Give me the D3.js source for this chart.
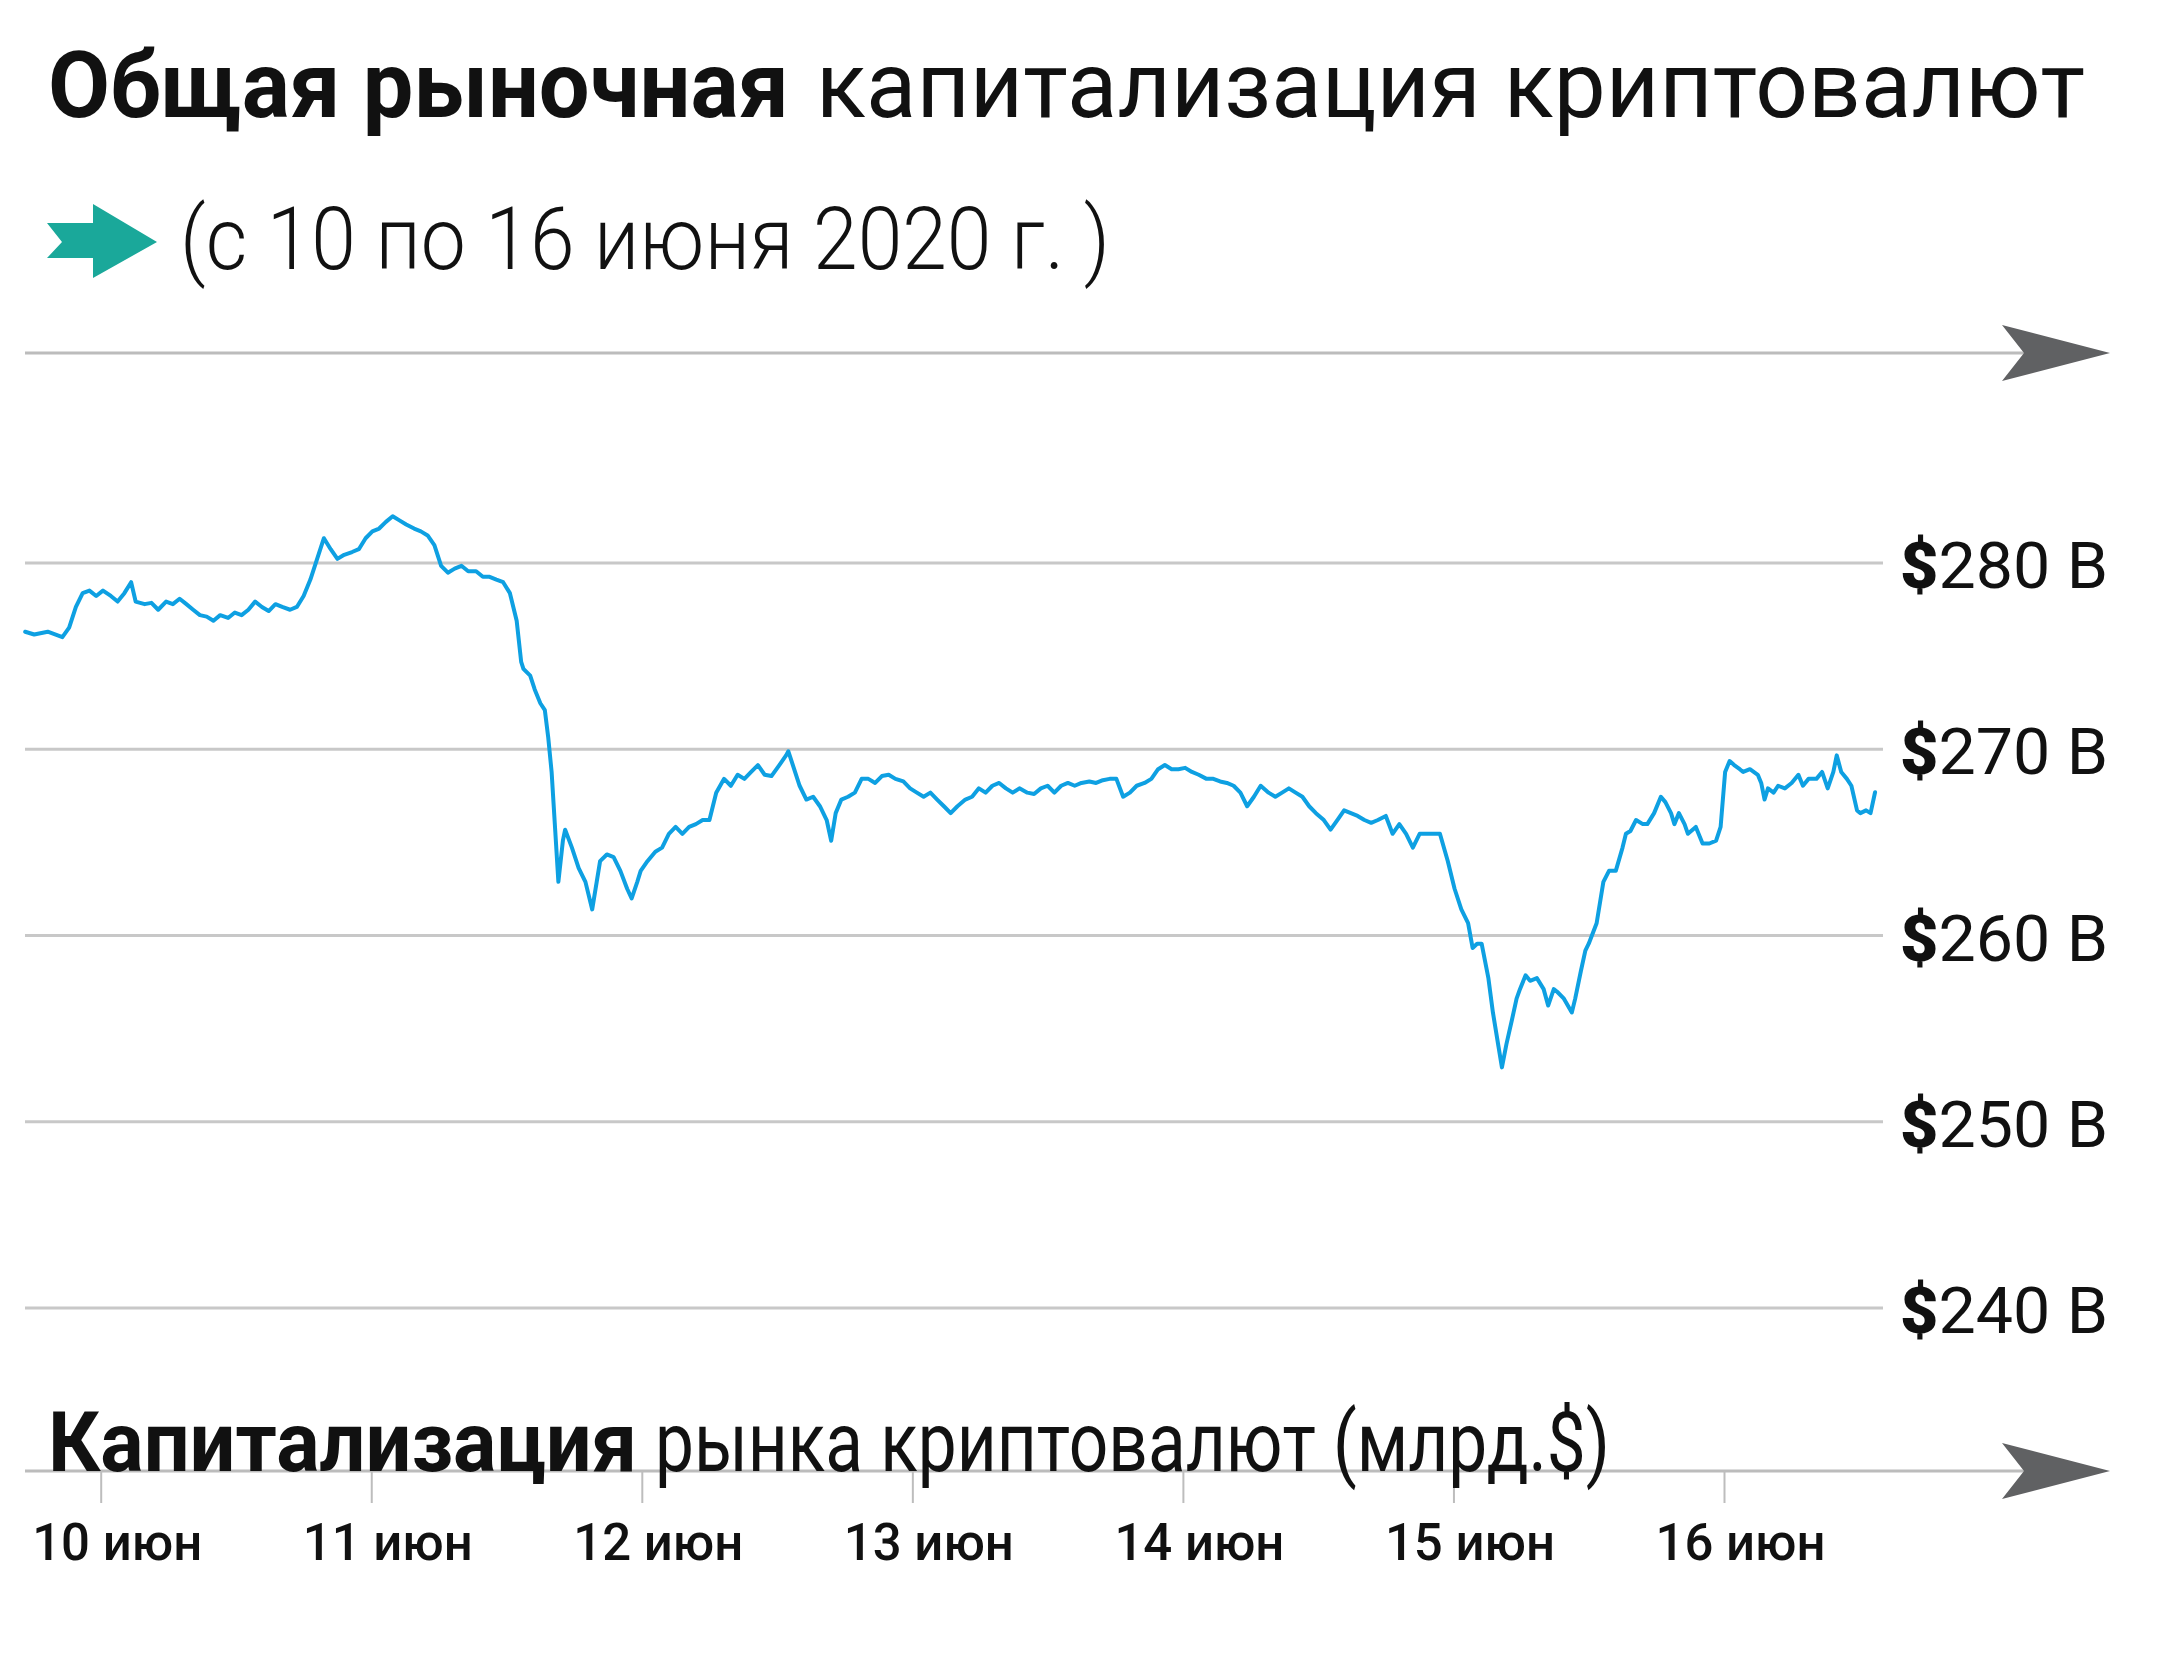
<!DOCTYPE html>
<html>
<head>
<meta charset="utf-8">
<script src="https://cdn.jsdelivr.net/npm/d3@7"></script>
<style>
html,body{margin:0;padding:0;background:#fff;}
svg{display:block;}
</style>
</head>
<body>
<svg id="chart" width="2160" height="1657"></svg>
<script>
// ---- DATA ----
const titleBold = "Общая рыночная";
const titleRegular = "капитализация криптовалют";
const subtitle = "(с 10 по 16 июня 2020 г. )";
const axisTitleBold = "Капитализация";
const axisTitleRegular = "рынка криптовалют (млрд.$)";
const yTicks = [240, 250, 260, 270, 280];
const yTickLabels = ["240 B", "250 B", "260 B", "270 B", "280 B"];
const dayTicks = ["2020-06-10", "2020-06-11", "2020-06-12", "2020-06-13", "2020-06-14", "2020-06-15", "2020-06-16"];
const dayLabels = ["10 июн", "11 июн", "12 июн", "13 июн", "14 июн", "15 июн", "16 июн"];

// hours since 10 June 2020 00:00
const hours = [
-6.7,-5.9,-4.7,-3.4,-2.8,-2.2,-1.6,-1.0,-0.4,0.2,0.9,1.5,2.1,2.7,3.1,3.9,4.5,5.1,5.8,6.4,7.0,7.6,8.2,8.8,9.4,10.0,10.6,11.3,11.9,12.5,13.1,13.7,14.3,14.9,15.5,16.1,16.8,17.4,18.0,18.6,19.2,19.8,20.4,21.0,21.6,22.3,22.9,23.5,24.1,24.7,25.3,25.9,26.5,27.1,27.8,28.4,29.0,29.6,30.2,30.8,31.4,32.0,32.6,33.3,33.9,34.5,35.1,35.7,36.3,36.9,37.3,37.5,38.1,38.5,39.0,39.4,39.7,40.0,40.3,40.6,41.0,41.2,41.8,42.4,43.0,43.6,44.0,44.3,44.9,45.5,46.1,46.7,47.1,47.6,47.9,48.5,49.2,49.8,50.4,51.0,51.6,52.2,52.8,53.4,54.0,54.6,55.3,55.9,56.5,57.1,57.7,58.3,58.9,59.5,60.2,60.8,61.0,61.4,62.0,62.6,63.2,63.8,64.4,64.8,65.2,65.7,66.3,66.9,67.5,68.1,68.7,69.3,69.9,70.5,71.2,71.8,72.4,73.0,73.6,74.2,74.8,75.4,76.0,76.7,77.3,77.9,78.5,79.1,79.7,80.3,80.9,81.5,82.2,82.8,83.4,84.0,84.6,85.2,85.8,86.4,87.0,87.7,88.3,88.9,89.5,90.1,90.7,91.3,91.9,92.6,93.2,93.8,94.4,95.0,95.6,96.2,96.8,97.4,98.1,98.7,99.3,99.9,100.5,101.1,101.7,102.3,102.9,103.6,104.2,104.8,105.4,106.0,106.6,107.2,107.8,108.5,109.1,109.7,110.3,110.9,111.5,112.1,112.7,113.3,114.0,114.6,115.2,115.8,116.4,117.0,117.6,118.2,118.8,119.5,120.1,120.7,121.3,121.7,122.1,122.5,123.1,123.5,124.0,124.3,124.7,125.2,125.6,125.9,126.4,126.8,127.4,128.0,128.4,128.9,129.2,129.8,130.5,130.8,131.3,131.7,132.0,132.7,133.3,133.8,134.4,135.0,135.3,135.7,136.2,136.8,137.2,137.8,138.4,138.8,139.3,139.6,140.0,140.5,140.8,141.5,142.1,142.7,143.3,143.7,144.1,144.5,144.9,145.4,145.7,146.3,147.0,147.3,147.6,147.9,148.4,148.8,149.4,150.0,150.6,151.0,151.5,152.2,152.7,153.2,153.7,154.0,154.4,154.9,155.3,155.8,156.1,156.6,157.0,157.4
];
const capBn = [
276.31,276.16,276.31,276.02,276.53,277.64,278.38,278.52,278.23,278.52,278.23,277.93,278.38,278.97,277.93,277.79,277.86,277.49,277.93,277.79,278.08,277.79,277.49,277.20,277.12,276.90,277.20,277.05,277.34,277.20,277.49,277.93,277.64,277.42,277.79,277.64,277.49,277.64,278.23,279.11,280.22,281.33,280.74,280.22,280.44,280.59,280.74,281.33,281.70,281.85,282.21,282.51,282.29,282.07,281.85,281.70,281.48,280.96,279.85,279.48,279.70,279.85,279.56,279.56,279.26,279.26,279.11,278.97,278.38,276.90,274.69,274.32,273.95,273.21,272.47,272.10,270.63,268.78,265.83,262.88,265.09,265.68,264.72,263.62,262.88,261.40,262.88,263.99,264.35,264.21,263.47,262.51,261.99,262.88,263.47,263.99,264.50,264.72,265.46,265.83,265.46,265.83,265.98,266.20,266.20,267.67,268.41,268.04,268.63,268.41,268.78,269.15,268.63,268.56,269.15,269.67,269.89,269.15,268.04,267.30,267.45,266.94,266.20,265.09,266.57,267.30,267.45,267.67,268.41,268.41,268.19,268.56,268.63,268.41,268.27,267.90,267.67,267.45,267.67,267.30,266.94,266.57,266.94,267.30,267.45,267.90,267.67,268.04,268.19,267.90,267.67,267.90,267.67,267.60,267.90,268.04,267.67,268.04,268.19,268.04,268.19,268.27,268.19,268.34,268.41,268.41,267.45,267.67,268.04,268.19,268.41,268.93,269.15,268.93,268.93,269.00,268.78,268.63,268.41,268.41,268.27,268.19,268.04,267.67,266.94,267.45,268.04,267.67,267.45,267.67,267.90,267.67,267.45,266.94,266.57,266.20,265.68,266.20,266.72,266.57,266.42,266.20,266.05,266.20,266.42,265.46,265.98,265.46,264.72,265.46,265.46,265.46,265.46,263.99,262.51,261.40,260.66,259.33,259.56,259.56,257.71,255.87,254.02,252.92,254.17,255.50,256.61,257.12,257.86,257.57,257.71,257.12,256.24,257.12,256.98,256.61,255.87,256.61,258.08,259.19,259.56,260.66,262.88,263.47,263.47,264.72,265.46,265.61,266.20,265.98,265.98,266.57,267.45,267.16,266.57,265.98,266.57,265.98,265.46,265.83,264.94,264.94,265.09,265.83,268.78,269.37,269.15,268.93,268.78,268.93,268.63,268.19,267.30,267.90,267.67,268.04,267.90,268.19,268.63,268.04,268.41,268.41,268.78,267.90,268.78,269.67,268.78,268.41,268.04,266.72,266.57,266.72,266.57,267.69
];

// ---- DRAW ----
const svg = d3.select("#chart");
const FONT = "Roboto, 'Noto Sans', sans-serif";
const t0 = new Date(2020, 5, 10, 0, 0, 0).getTime();
const series = hours.map((h, i) => ({ date: new Date(t0 + h * 3600e3), v: capBn[i] }));
const parse = d3.timeParse("%Y-%m-%d");

const x = d3.scaleTime()
  .domain([parse(dayTicks[0]), parse(dayTicks[dayTicks.length - 1])])
  .range([100.7, 1724]);
const y = d3.scaleLinear().domain([240, 280]).range([1308, 563]);

// Title
svg.append("text").attr("x", 48).attr("y", 117)
  .attr("font-family", FONT).attr("font-weight", 700).attr("font-size", 92)
  .attr("fill", "#111").attr("textLength", 741).attr("lengthAdjust", "spacingAndGlyphs")
  .text(titleBold);
svg.append("text").attr("x", 816).attr("y", 117)
  .attr("font-family", FONT).attr("font-weight", 400).attr("font-size", 92)
  .attr("fill", "#111").attr("textLength", 1269).attr("lengthAdjust", "spacingAndGlyphs")
  .text(titleRegular);

// teal arrow marker
svg.append("path")
  .attr("d", "M47,223 L93,223 L93,204 L157,242 L93,278 L93,258 L47,258 L62,242 Z")
  .attr("fill", "#1aa89a");

svg.append("text").attr("x", 180).attr("y", 269)
  .attr("font-family", FONT).attr("font-weight", 300).attr("font-size", 88)
  .attr("fill", "#111").attr("textLength", 930).attr("lengthAdjust", "spacingAndGlyphs")
  .text(subtitle);

// arrow lines
function arrowLine(yy) {
  svg.append("line").attr("x1", 25).attr("x2", 2025).attr("y1", yy).attr("y2", yy)
    .attr("stroke", "#bcbcbc").attr("stroke-width", 3);
  svg.append("path")
    .attr("d", `M2002,${yy - 28} L2110,${yy} L2002,${yy + 28} L2024,${yy} Z`)
    .attr("fill", "#606163");
}
arrowLine(353);

// gridlines
svg.append("g").selectAll("line").data(yTicks).join("line")
  .attr("x1", 25).attr("x2", 1883)
  .attr("y1", d => y(d)).attr("y2", d => y(d))
  .attr("stroke", "#c8c8c8").attr("stroke-width", 3);

// y labels
const yl = svg.append("g").selectAll("text").data(yTicks).join("text")
  .attr("x", 2108).attr("y", d => y(d) + 25)
  .attr("text-anchor", "end")
  .attr("font-family", FONT).attr("font-size", 64).attr("fill", "#111")
  .attr("textLength", 208).attr("lengthAdjust", "spacingAndGlyphs");
yl.append("tspan").attr("font-weight", 900).text("$");
yl.append("tspan").attr("font-weight", 400).text((d, i) => yTickLabels[i]);

// bottom axis line + ticks
arrowLine(1471);
const xAxis = d3.axisBottom(x)
  .tickValues(dayTicks.map(parse))
  .tickSize(32)
  .tickFormat((d, i) => dayLabels[i]);
const gx = svg.append("g").attr("transform", "translate(0,1471)").call(xAxis);
gx.select(".domain").remove();
gx.selectAll(".tick line").attr("stroke", "#bdbdbd").attr("stroke-width", 2);
gx.selectAll(".tick text")
  .attr("font-family", FONT).attr("font-size", 52).attr("font-weight", 500)
  .attr("fill", "#111").attr("text-anchor", "start")
  .attr("x", -69).attr("y", 89).attr("dy", 0)
  .attr("textLength", 170).attr("lengthAdjust", "spacingAndGlyphs");

// axis title (drawn over the axis line)
svg.append("text").attr("x", 48).attr("y", 1471)
  .attr("font-family", FONT).attr("font-weight", 700).attr("font-size", 83)
  .attr("fill", "#111").attr("textLength", 589).attr("lengthAdjust", "spacingAndGlyphs")
  .text(axisTitleBold);
svg.append("text").attr("x", 655).attr("y", 1471)
  .attr("font-family", FONT).attr("font-weight", 400).attr("font-size", 83)
  .attr("fill", "#111").attr("textLength", 955).attr("lengthAdjust", "spacingAndGlyphs")
  .text(axisTitleRegular);

// data line
const line = d3.line().x(d => x(d.date)).y(d => y(d.v)).curve(d3.curveLinear);
svg.append("path").datum(series)
  .attr("d", line)
  .attr("fill", "none")
  .attr("stroke", "#0ea0e2")
  .attr("stroke-width", 4)
  .attr("stroke-linejoin", "round")
  .attr("stroke-linecap", "round");
</script>
</body>
</html>
